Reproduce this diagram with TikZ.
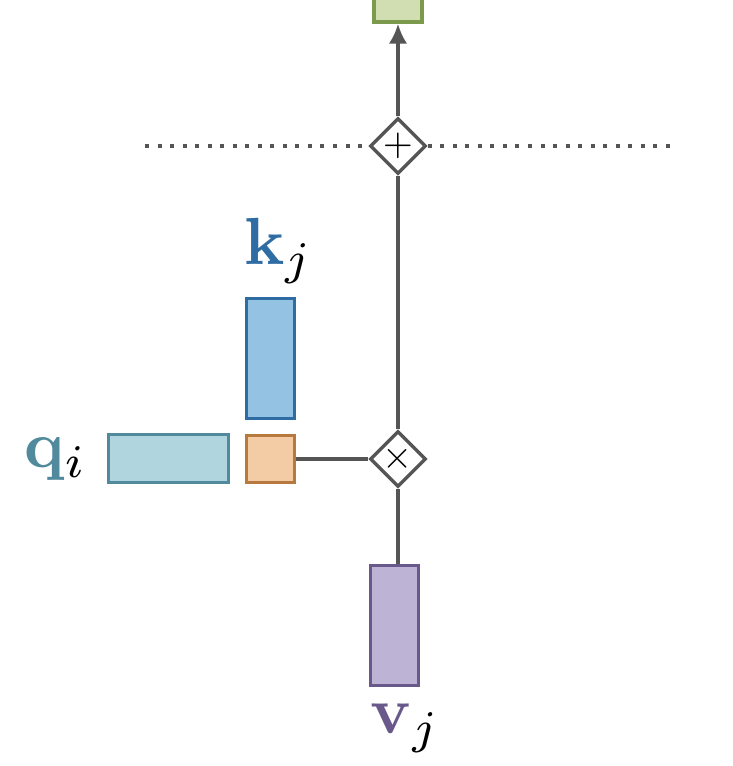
\documentclass[tikz,border=0pt]{standalone}
\usetikzlibrary{shapes.geometric,arrows.meta}
\usepackage{amsmath}
\definecolor{lin}{HTML}{555555}
\definecolor{gfill}{HTML}{D1DEB2}\definecolor{gdraw}{HTML}{7C9A4C}
\definecolor{kfill}{HTML}{93C2E3}\definecolor{kdraw}{HTML}{2E6CA3}
\definecolor{qfill}{HTML}{B0D5DF}\definecolor{qdraw}{HTML}{508A9C}
\definecolor{ofill}{HTML}{F3CCA6}\definecolor{odraw}{HTML}{B8793F}
\definecolor{vfill}{HTML}{BDB3D4}\definecolor{vdraw}{HTML}{69598B}
\begin{document}
\begin{tikzpicture}[x=0.75pt,y=-0.75pt,
  vec/.style={draw,line width=2.6pt,inner sep=0pt,minimum width=36pt,minimum height=90pt},
  hvec/.style={draw,line width=2.6pt,inner sep=0pt,minimum width=90pt,minimum height=36pt},
  sq/.style={draw,line width=2.6pt,inner sep=0pt,minimum width=36pt,minimum height=35.5pt},
  op/.style={diamond,aspect=1,draw=lin,fill=white,line width=2.6pt,inner sep=0pt,minimum size=42pt},
  conn/.style={draw=lin,line width=2.8pt},
  lbl/.style={inner sep=0pt}]
\useasboundingbox (0,0) rectangle (732,766);
\node[vec,fill=gfill,draw=gdraw,minimum height=39pt] (out) at (398,-4) {};
\node[op] (plus) at (398,146) {\scalebox{2.9}{$+$}};
\node[op] (times) at (398,459) {\scalebox{2.9}{$\times$}};
\node[vec,fill=kfill,draw=kdraw] (k) at (270.5,358.5) {};
\node[hvec,fill=qfill,draw=qdraw] (q) at (168.5,458.5) {};
\node[sq,fill=ofill,draw=odraw] (dot) at (270.5,459) {};
\node[vec,fill=vfill,draw=vdraw] (v) at (394.5,625.5) {};
\node[lbl,anchor=base west] (kl) at (244,265) {\scalebox{5}{$\mathbf{\color{kdraw}k}_{j}$}};
\node[lbl,anchor=base west] (ql) at (24,467) {\scalebox{5}{$\mathbf{\color{qdraw}q}_{i}$}};
\node[lbl,anchor=base west] (vl) at (370,733) {\scalebox{5}{$\mathbf{\color{vdraw}v}_{j}$}};
\coordinate (dl) at (145,146);
\coordinate (dr) at (670,146);
\draw[lin,line width=3.2pt,dash pattern=on 3pt off 6.4pt] (dl) -- (plus.west);
\draw[lin,line width=3.2pt,dash pattern=on 3pt off 6.4pt] (plus.east) -- (dr);
\draw[conn,-{Latex[length=15pt,width=14pt]}] (plus.north) -- (out.south);
\draw[conn] (times.north) -- (plus.south);
\draw[conn] (dot.east) -- (times.west);
\draw[conn] (v.north -| times) -- (times.south);
\end{tikzpicture}
\end{document}
